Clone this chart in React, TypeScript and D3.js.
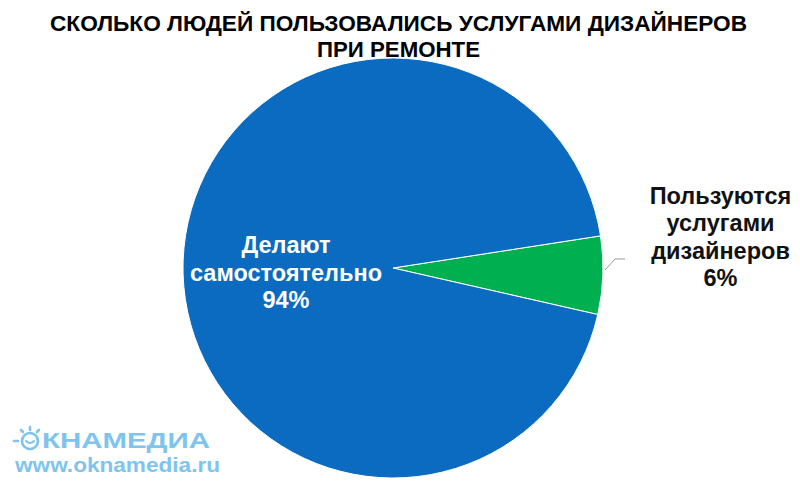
import React from "react";
import * as d3 from "d3";

const categories = ["Пользуются услугами дизайнеров", "Делают самостоятельно"];
const values = [6, 94];
const labelLines = [
  ["Пользуются", "услугами", "дизайнеров", "6%"],
  ["Делают", "самостоятельно", "94%"],
];
const colors = ["#00b050", "#0a6bc0"];
const titleLines = ["СКОЛЬКО ЛЮДЕЙ ПОЛЬЗОВАЛИСЬ УСЛУГАМИ ДИЗАЙНЕРОВ", "ПРИ РЕМОНТЕ"];

export default function App() {
  const W = 800, H = 487;
  const cx = 393, cy = 268, r = 210;
  const startDeg = 81.2;
  const pie = d3.pie<number>().sort(null)
    .startAngle((startDeg * Math.PI) / 180)
    .endAngle(((startDeg + 360) * Math.PI) / 180);
  const arcs = pie(values);
  const arc = d3.arc<d3.PieArcDatum<number>>().innerRadius(0).outerRadius(r);
  const font = "'Liberation Sans', Arial, sans-serif";
  const titleLen = [697, 163];
  const logo = "#7ec4ef";
  return (
    <svg width={W} height={H} style={{ position: "absolute", left: 0, top: 0, background: "#fff" }}>
      {titleLines.map((t, i) => (
        <text key={i} x={398.5} y={31 + i * 26} textAnchor="middle" textLength={titleLen[i]} lengthAdjust="spacingAndGlyphs"
          fontFamily={font} fontWeight="bold" fontSize={22.5} fill="#000">{t}</text>
      ))}
      <g transform={`translate(${cx},${cy})`}>
        {arcs.map((a, i) => (
          <path key={categories[i]} d={arc(a) || ""} fill={colors[i]} stroke="#fff" strokeWidth={1} />
        ))}
      </g>
      <polyline points="605,270 615,259 625,259" fill="none" stroke="#999" strokeWidth={1} />
      {labelLines[0].map((t, i) => (
        <text key={i} x={720.5} y={204 + i * 27.3} textAnchor="middle" fontFamily={font} fontWeight="bold" fontSize={23.5} fill="#111">{t}</text>
      ))}
      {labelLines[1].map((t, i) => (
        <text key={i} x={286} y={253 + i * 27.5} textAnchor="middle" fontFamily={font} fontWeight="bold" fontSize={23.5} fill="#fff">{t}</text>
      ))}
      <g fill="none" stroke={logo} strokeWidth={2.6} strokeLinecap="round">
        <line x1={14} y1={441} x2={18} y2={441} />
        <circle cx={30} cy={441} r={8} />
        <path d="M26,441 Q30,445 34,441" strokeWidth={2} />
        <line x1={30} y1={427} x2={30} y2={430} />
        <line x1={21} y1={430} x2={23} y2={432} />
        <line x1={39} y1={430} x2={37} y2={432} />
      </g>
      <g fill={logo} fontFamily={font} fontWeight="bold">
        <text x={42} y={448} fontSize={22} textLength={168} lengthAdjust="spacingAndGlyphs">КНАМЕДИА</text>
        <text x={15} y={472} fontSize={21} textLength={205} lengthAdjust="spacingAndGlyphs">www.oknamedia.ru</text>
      </g>
    </svg>
  );
}
